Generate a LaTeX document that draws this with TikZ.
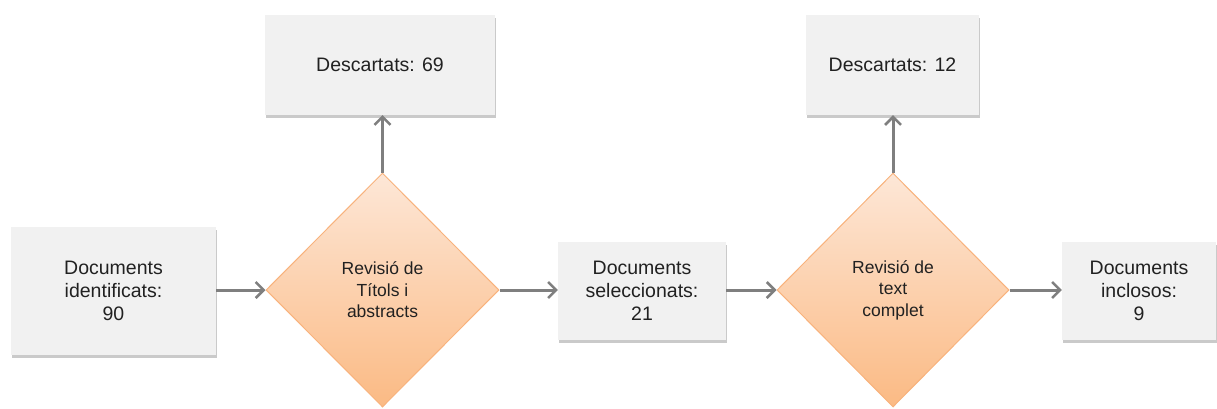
\documentclass[tikz,border=0pt]{standalone}
\usepackage{fontspec}
\setmainfont{Liberation Sans}
\usetikzlibrary{shapes.geometric,arrows.meta,shadows}
\definecolor{boxfill}{HTML}{F1F1F1}
\definecolor{arrowgray}{HTML}{7F7F7F}
\definecolor{diatop}{HTML}{FDE7D7}
\definecolor{diabot}{HTML}{FBBA84}
\definecolor{diaborder}{HTML}{F8B27C}
\definecolor{txt}{HTML}{212121}
\tikzset{
  greybox/.style={rectangle, fill=boxfill, draw=none, align=center, inner sep=0pt,
    text=txt, font=\fontsize{19.5}{23}\selectfont,
    drop shadow={shadow xshift=1pt, shadow yshift=-3pt, opacity=0.35, fill=black!60}},
  decision/.style={diamond, aspect=1, inner sep=0pt, align=center, text=txt,
    draw=diaborder, line width=1pt, top color=diatop, bottom color=diabot,
    font=\fontsize{17.5}{21.5}\selectfont},
  flow/.style={draw=arrowgray, line width=3pt, -{Straight Barb[length=8pt,width=16pt,line width=2.5pt]}}
}
\begin{document}
\begin{tikzpicture}[x=1pt,y=-1pt]
\useasboundingbox (0,0) rectangle (1217,408);
\node[greybox, minimum width=205pt, minimum height=128pt] (ident) at (113.5,291) {Documents\\identificats:\\90};
\node[decision, minimum width=233pt, minimum height=234pt] (rev1) at (382.5,290) {Revisió de\\Títols i\\abstracts};
\node[greybox, minimum width=230pt, minimum height=100pt] (desc1) at (380,65) {Descartats: 69};
\node[greybox, minimum width=168pt, minimum height=98pt] (sel) at (642,291) {Documents\\seleccionats:\\21};
\node[decision, minimum width=232pt, minimum height=234pt] (rev2) at (893,290) {Revisió de\\text\\complet};
\node[greybox, minimum width=173pt, minimum height=100pt] (desc2) at (892.5,65) {Descartats: 12};
\node[greybox, minimum width=154pt, minimum height=98pt] (inc) at (1139,291) {Documents\\inclosos:\\9};
\draw[flow] (ident.east |- rev1.west) -- (rev1.west);
\draw[flow] (rev1.north) -- (rev1.north |- desc1.south);
\draw[flow] (rev1.east) -- (rev1.east -| sel.west);
\draw[flow] (sel.east |- rev2.west) -- (rev2.west);
\draw[flow] (rev2.north) -- (rev2.north |- desc2.south);
\draw[flow] (rev2.east) -- (rev2.east -| inc.west);
\end{tikzpicture}
\end{document}
